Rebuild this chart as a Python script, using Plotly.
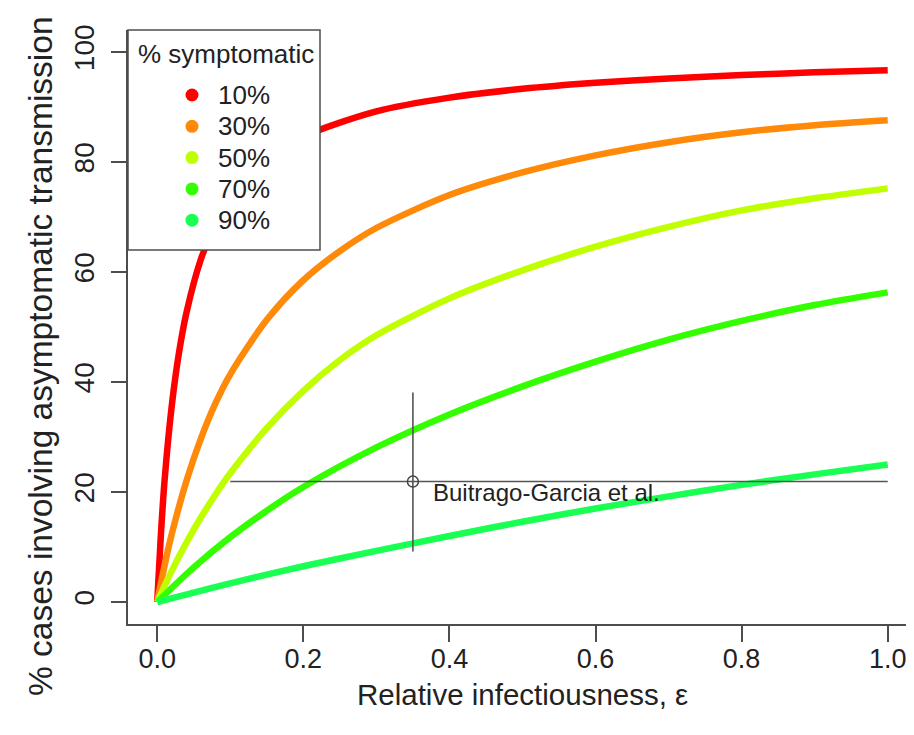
import plotly.graph_objects as go

# ---------------- data ----------------
series_names = ["10%", "30%", "50%", "70%", "90%"]
series_colors = ["#FF0000", "#FF8A0A", "#BFFF00", "#33FF00", "#19FF52"]

eps_10 = [0, 0.005, 0.01, 0.02, 0.03, 0.04, 0.06, 0.08, 0.10, 0.15, 0.20, 0.30, 0.40, 0.50, 0.60, 0.70, 0.80, 0.90, 1.0]
val_10 = [0, 12.2, 22.0, 35.8, 45.5, 52.6, 62.4, 68.8, 73.3, 80.4, 84.6, 89.2, 91.7, 93.3, 94.4, 95.2, 95.8, 96.3, 96.7]

eps_30 = [0, 0.01, 0.02, 0.04, 0.06, 0.08, 0.10, 0.15, 0.20, 0.25, 0.30, 0.40, 0.50, 0.60, 0.70, 0.80, 0.90, 1.0]
val_30 = [0, 6.6, 12.4, 22.0, 29.8, 36.2, 41.4, 51.3, 58.5, 63.8, 68.0, 74.0, 78.1, 81.2, 83.6, 85.4, 86.7, 87.6]

eps_50 = [0, 0.02, 0.04, 0.06, 0.08, 0.10, 0.15, 0.20, 0.25, 0.30, 0.40, 0.50, 0.60, 0.70, 0.80, 0.90, 1.0]
val_50 = [0, 5.7, 10.8, 15.4, 19.6, 23.4, 31.6, 38.4, 44.0, 48.5, 55.2, 60.3, 64.6, 68.2, 71.2, 73.4, 75.2]

eps_70 = [0, 0.05, 0.10, 0.15, 0.20, 0.30, 0.40, 0.50, 0.60, 0.70, 0.80, 0.90, 1.0]
val_70 = [0, 6.3, 11.8, 16.6, 20.9, 28.1, 34.1, 39.2, 43.7, 47.7, 51.1, 54.0, 56.3]

eps_90 = [0, 0.10, 0.20, 0.30, 0.40, 0.50, 0.60, 0.70, 0.80, 0.90, 1.0]
val_90 = [0, 3.4, 6.5, 9.3, 12.0, 14.6, 17.0, 19.2, 21.3, 23.2, 25.0]

study_label = "Buitrago-Garcia et al."
study_x = [0.35]
study_y = [21.9]
study_x_lo = [0.10]
study_x_hi = [1.00]
study_y_lo = [9.2]
study_y_hi = [38.1]

x_ticks = [0.0, 0.2, 0.4, 0.6, 0.8, 1.0]
x_ticktext = ["0.0", "0.2", "0.4", "0.6", "0.8", "1.0"]
y_ticks = [0, 20, 40, 60, 80, 100]

legend_title = "% symptomatic"
x_title = "Relative infectiousness, ε"
y_title = "% cases involving asymptomatic transmission"

# ---------------- layout constants ----------------
# the page adds an 8px body margin; the figure is sized to sit inside the window
OFF = 8
W, H = 906, 719
ML, MR, MT, MB = 128 - OFF, 0, 30 - OFF, 719 - (624 - OFF)
PW, PH = W - ML - MR, H - MT - MB
FONT = "Liberation Sans, Arial, Helvetica, sans-serif"
AXC = "#4d4d4d"
TXT = "#222222"


def px_x(px):
    """page pixel x -> paper coordinate"""
    return (px - OFF - ML) / PW


def px_y(py):
    """page pixel y -> paper coordinate"""
    return (MT + PH - (py - OFF)) / PH


fig = go.Figure()

all_eps = [eps_10, eps_30, eps_50, eps_70, eps_90]
all_val = [val_10, val_30, val_50, val_70, val_90]
for name, col, ex, vy in zip(series_names, series_colors, all_eps, all_val):
    fig.add_trace(go.Scatter(
        x=ex, y=vy, mode="lines", name=name, showlegend=False,
        line=dict(color=col, width=6.5, shape="spline", smoothing=0.8),
        hoverinfo="skip"))

# study estimate with intervals
fig.add_trace(go.Scatter(
    x=study_x, y=study_y, mode="markers", showlegend=False,
    marker=dict(symbol="circle-open", size=11, color="#444444", line=dict(width=1.5, color="#444444")),
    error_x=dict(type="data", symmetric=False,
                 array=[h - c for h, c in zip(study_x_hi, study_x)],
                 arrayminus=[c - l for c, l in zip(study_x, study_x_lo)],
                 width=0, thickness=1.6, color="#555555"),
    error_y=dict(type="data", symmetric=False,
                 array=[h - c for h, c in zip(study_y_hi, study_y)],
                 arrayminus=[c - l for c, l in zip(study_y, study_y_lo)],
                 width=0, thickness=1.6, color="#555555"),
))

annotations = [
    dict(x=study_x[0], y=study_y[0], xref="x", yref="y", text=study_label,
         showarrow=False, xanchor="left", yanchor="middle", xshift=18, yshift=-11,
         font=dict(family=FONT, size=24, color=TXT)),
    dict(x=0.5, y=px_y(694), xref="x", yref="paper", text=x_title, showarrow=False,
         xanchor="center", yanchor="middle", font=dict(family=FONT, size=29.5, color=TXT)),
    dict(x=px_x(40), y=px_y(356), xref="paper", yref="paper", text=y_title, showarrow=False,
         textangle=-90, xanchor="center", yanchor="middle",
         font=dict(family=FONT, size=33.5, color=TXT)),
]

shapes = []
# legend box
LX0, LY0, LX1, LY1 = 128, 30, 320, 250
shapes.append(dict(type="rect", xref="paper", yref="paper",
                   x0=px_x(LX0), x1=px_x(LX1), y0=px_y(LY1), y1=px_y(LY0),
                   line=dict(color=AXC, width=1.5), fillcolor="white", layer="above"))
annotations.append(dict(x=px_x(136), y=px_y(54), xref="paper", yref="paper", text=legend_title,
                        showarrow=False, xanchor="left", yanchor="middle",
                        font=dict(family=FONT, size=26, color=TXT)))
for i, (name, col) in enumerate(zip(series_names, series_colors)):
    cy = 95 + 31.3 * i
    r = 6.5
    shapes.append(dict(type="circle", xref="paper", yref="paper",
                       x0=px_x(192 - r), x1=px_x(192 + r), y0=px_y(cy + r), y1=px_y(cy - r),
                       fillcolor=col, line=dict(color=col, width=0), layer="above"))
    annotations.append(dict(x=px_x(216), y=px_y(cy), xref="paper", yref="paper", text=name,
                            showarrow=False, xanchor="left", yanchor="middle",
                            font=dict(family=FONT, size=26, color=TXT)))

fig.update_layout(
    width=W, height=H,
    margin=dict(l=ML, r=MR, t=MT, b=MB, pad=0),
    paper_bgcolor="white", plot_bgcolor="white",
    showlegend=False,
    annotations=annotations,
    shapes=shapes,
    xaxis=dict(range=[-0.04, -0.04 + PW / 730.5], tickvals=x_ticks, ticktext=x_ticktext,
               showgrid=False, zeroline=False, showline=True, linecolor=AXC, linewidth=1.6,
               ticks="outside", ticklen=16, tickwidth=1.6, tickcolor=AXC,
               tickfont=dict(family=FONT, size=27, color=TXT), ticklabelstandoff=-6),
    yaxis=dict(range=[-4, 104], tickvals=y_ticks,
               showgrid=False, zeroline=False, showline=True, linecolor=AXC, linewidth=1.6,
               ticks="outside", ticklen=15, tickwidth=1.6, tickcolor=AXC, tickangle=-90,
               tickfont=dict(family=FONT, size=28, color=TXT), ticklabelstandoff=6),
)

fig.write_html("out.html")
